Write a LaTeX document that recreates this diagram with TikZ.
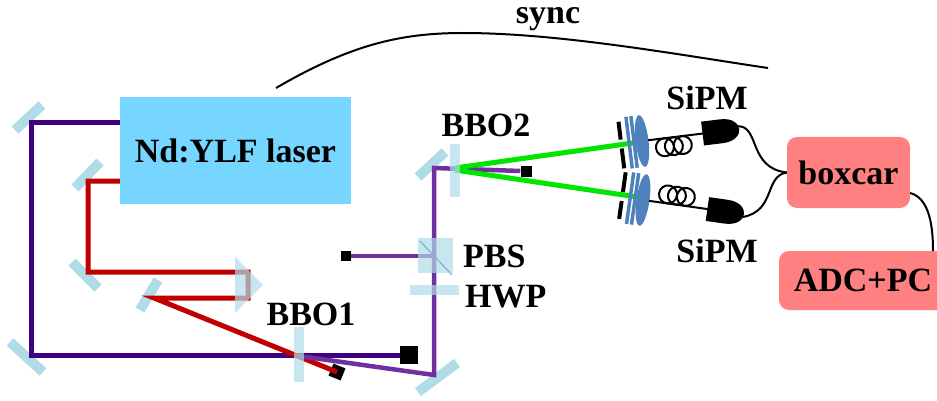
\documentclass[tikz,border=0pt]{standalone}
\usepackage{fontspec}
\setmainfont{Liberation Serif}
\definecolor{mirrorblue}{RGB}{176,220,232}
\definecolor{laserblue}{RGB}{118,214,255}
\definecolor{salmon}{RGB}{255,128,128}
\definecolor{darkpurple}{RGB}{64,0,128}
\definecolor{lightpurple}{RGB}{112,48,160}
\definecolor{beamred}{RGB}{192,0,0}
\definecolor{beamgreen}{RGB}{0,230,0}
\definecolor{optblue}{RGB}{79,129,189}
\tikzset{
  mirror/.style={draw=mirrorblue, line width=10pt},
  crystal/.style={fill=mirrorblue, opacity=0.7, draw=none},
  dpbeam/.style={draw=darkpurple, line width=5pt, line join=miter},
  lpbeam/.style={draw=lightpurple, line width=4.5pt, line join=miter},
  redbeam/.style={draw=beamred, line width=5pt, line join=miter},
  greenbeam/.style={draw=beamgreen, line width=5pt},
  dump/.style={fill=black, inner sep=0pt, draw=none},
  lbl/.style={font=\fontsize{34}{40}\selectfont\bfseries, anchor=base, inner sep=0pt},
  boxtext/.style={font=\fontsize{34}{40}\selectfont\bfseries, inner sep=0pt},
  cable/.style={draw=black, line width=2pt},
  aperture/.style={draw=black, line width=4pt},
  filter/.style={draw=optblue, line width=3.5pt},
  lens/.style={fill=optblue, draw=none},
  sipm/.style={fill=black, draw=none}
}
\begin{document}
\begin{tikzpicture}[x=1pt,y=-1pt]
\useasboundingbox (0,0) rectangle (937,401);
% mirrors
\draw[mirror] (15,130) -- (42,105);
\draw[mirror] (10,342) -- (43,372);
\draw[mirror] (75,188) -- (100,162);
\draw[mirror] (72,262) -- (98,288);
\draw[mirror] (140,310) -- (158,280);
\draw[mirror] (418,392) -- (457,363);
\draw[mirror] (418,177) -- (445,152);
% beam dumps
\node[dump, minimum size=18pt] (d1) at (409,355) {};
\node[dump, minimum size=13pt, rotate=-22] (d2) at (337,372) {};
\node[dump, minimum size=11pt] (d3) at (526,171) {};
\node[dump, minimum size=10pt] (d4) at (346,256) {};
% beams
\draw[dpbeam] (122,123) -- (31,123) -- (31,355) -- (d1.west);
\draw[redbeam] (123,181) -- (88,181) -- (88,272) -- (248,272) -- (248,298) -- (154,298) -- (d2.center);
\draw[lpbeam] (299,356) -- (434,375) -- (434,168) -- (d3.west);
\draw[lpbeam] (d4.east) -- (434,256);
\draw[greenbeam] (455,168) -- (640,142);
\draw[greenbeam] (455,170) -- (637,197);
% crystals and optics over beams
\fill[crystal] (294,327) rectangle (304,382);
\fill[crystal] (450,144) rectangle (460,197);
\fill[crystal] (418,238) rectangle (453,273);
\draw[draw=optblue!50!mirrorblue, line width=1.2pt] (420,241) -- (452,275);
\fill[crystal] (410,285) rectangle (459,295);
\fill[crystal] (235,257) -- (263,285) -- (235,313) -- cycle;
% laser
\node[fill=laserblue, minimum width=231pt, minimum height=107pt, inner sep=0pt, boxtext] (laser) at (235.5,150.5) {Nd:YLF laser};
% detection arms
\begin{scope}[shift={(642,141)}, rotate=7]
  \draw[aperture] (-21,-22) -- (-21,-4);
  \draw[aperture] (-21,5) -- (-21,25);
  \draw[filter] (-13,-26) -- (-13,26);
  \draw[filter] (-8,-26) -- (-8,26);
  \fill[lens] (0,0) ellipse [x radius=6.5, y radius=26];
  \draw[cable] (6,0) -- (62,0);
  \draw[cable] (22,9) circle [radius=9];
  \draw[cable] (31,9) circle [radius=9];
  \draw[cable] (40,9) circle [radius=9];
  \fill[sipm] (61,-12) -- (80,-12) .. controls (93,-12) and (98,-5) .. (98,0) .. controls (98,5) and (93,12) .. (80,12) -- (61,12) -- cycle;
  \coordinate (upend) at (97,-3);
\end{scope}
\begin{scope}[shift={(643,200)}, rotate=-8]
  \draw[aperture] (-21,22) -- (-21,4);
  \draw[aperture] (-21,-5) -- (-21,-25);
  \draw[filter] (-13,-26) -- (-13,26);
  \draw[filter] (-8,-26) -- (-8,26);
  \fill[lens] (0,0) ellipse [x radius=6.5, y radius=26];
  \draw[cable] (6,0) -- (66,0);
  \draw[cable] (24,-9) circle [radius=9];
  \draw[cable] (33,-9) circle [radius=9];
  \draw[cable] (42,-9) circle [radius=9];
  \fill[sipm] (65,-12) -- (84,-12) .. controls (97,-12) and (102,-5) .. (102,0) .. controls (102,5) and (97,12) .. (84,12) -- (65,12) -- cycle;
  \coordinate (loend) at (101,3);
\end{scope}
% electronics
\node[fill=salmon, rounded corners=10pt, minimum width=123pt, minimum height=71pt, inner sep=0pt, boxtext] (boxcar) at (848.5,172.5) {boxcar};
\node[fill=salmon, rounded corners=10pt, minimum width=168pt, minimum height=59pt, inner sep=0pt, boxtext] (adc) at (863,280.5) {ADC+PC};
\draw[cable] (upend) .. controls (760,126) and (748,168) .. (boxcar.west);
\draw[cable] (loend) .. controls (776,211) and (764,176) .. (boxcar.west);
\draw[cable] (910,193) .. controls (930,198) and (933,228) .. (933,251);
\coordinate (syncA) at (276,88);
\coordinate (syncB) at (768,68);
\draw[cable] (syncA) .. controls (350,45) and (400,33) .. (463,33) .. controls (560,33) and (680,55) .. (syncB);
% labels
\node[lbl, text height=16pt, text depth=8pt] (tsync) at (548,24) {sync};
\node[lbl] (tbbo2) at (486,137) {BBO2};
\node[lbl] (tbbo1) at (311,325) {BBO1};
\node[lbl, anchor=base west] (tpbs) at (463,267) {PBS};
\node[lbl, anchor=base west] (thwp) at (465,307) {HWP};
\node[lbl] (tsipm1) at (707,110) {SiPM};
\node[lbl] (tsipm2) at (717,262) {SiPM};
\end{tikzpicture}
\end{document}
